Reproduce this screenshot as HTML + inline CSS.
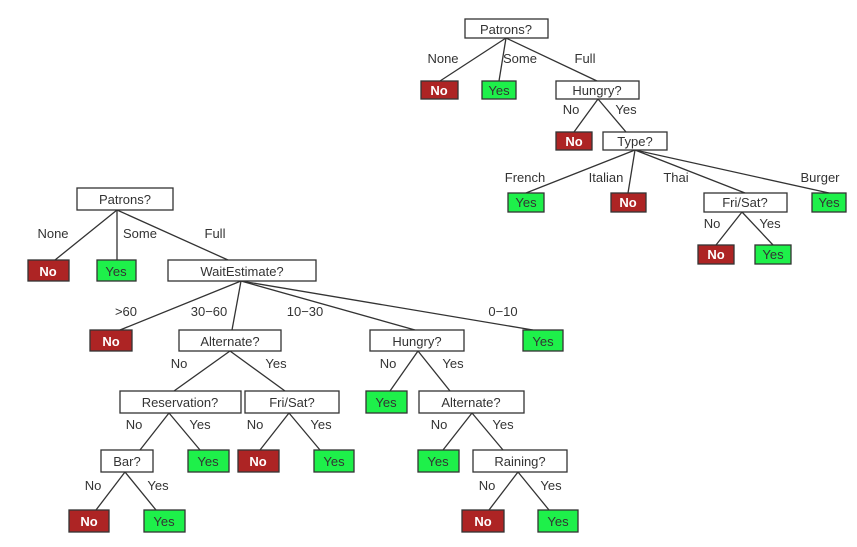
<!DOCTYPE html>
<html><head><meta charset="utf-8"><style>
body{margin:0;background:#fff}
svg text{font-family:"Liberation Sans",Arial,sans-serif;font-size:13px;fill:#333}
.q{fill:#fff;stroke:#333;stroke-width:1.3}
.r{fill:#ad2424;stroke:#333;stroke-width:1.3}
.g{fill:#1ef04a;stroke:#333;stroke-width:1.3}
.n{fill:#fff!important;font-weight:bold}
line{stroke:#333;stroke-width:1.3}
</style></head><body>
<svg width="857" height="542" xmlns="http://www.w3.org/2000/svg">
<!-- TOP TREE edges -->
<line x1="506" y1="38" x2="440" y2="81"/><line x1="506" y1="38" x2="499" y2="81"/><line x1="506" y1="38" x2="597" y2="81"/>
<line x1="598" y1="99" x2="574" y2="132"/><line x1="598" y1="99" x2="626" y2="132"/>
<line x1="635" y1="150" x2="526" y2="193"/><line x1="635" y1="150" x2="628" y2="193"/><line x1="635" y1="150" x2="745" y2="193"/><line x1="635" y1="150" x2="829" y2="193"/>
<line x1="742" y1="212" x2="716" y2="245"/><line x1="742" y1="212" x2="773" y2="245"/>
<!-- BOTTOM TREE edges -->
<line x1="117" y1="210" x2="55" y2="260"/><line x1="117" y1="210" x2="117" y2="260"/><line x1="117" y1="210" x2="228" y2="260"/>
<line x1="241" y1="281" x2="120" y2="330"/><line x1="241" y1="281" x2="232" y2="330"/><line x1="241" y1="281" x2="415" y2="330"/><line x1="241" y1="281" x2="533" y2="330"/>
<line x1="230" y1="351" x2="174" y2="391"/><line x1="230" y1="351" x2="285" y2="391"/>
<line x1="418" y1="351" x2="390" y2="391"/><line x1="418" y1="351" x2="450" y2="391"/>
<line x1="169" y1="413" x2="140" y2="450"/><line x1="169" y1="413" x2="200" y2="450"/>
<line x1="289" y1="413" x2="260" y2="450"/><line x1="289" y1="413" x2="320" y2="450"/>
<line x1="472" y1="413" x2="443" y2="450"/><line x1="472" y1="413" x2="503" y2="450"/>
<line x1="125" y1="472" x2="96" y2="510"/><line x1="125" y1="472" x2="156" y2="510"/>
<line x1="518" y1="472" x2="489" y2="510"/><line x1="518" y1="472" x2="549" y2="510"/>

<!-- TOP TREE nodes -->
<rect class="q" x="465" y="19" width="83" height="19"/><text x="506" y="34" text-anchor="middle">Patrons?</text>
<rect class="r" x="421" y="81" width="37" height="18"/><text class="n" x="439" y="95" text-anchor="middle">No</text>
<rect class="g" x="482" y="81" width="34" height="18"/><text x="499" y="95" text-anchor="middle">Yes</text>
<rect class="q" x="556" y="81" width="83" height="18"/><text x="597" y="95" text-anchor="middle">Hungry?</text>
<rect class="r" x="556" y="132" width="36" height="18"/><text class="n" x="574" y="146" text-anchor="middle">No</text>
<rect class="q" x="603" y="132" width="64" height="18"/><text x="635" y="146" text-anchor="middle">Type?</text>
<rect class="g" x="508" y="193" width="36" height="19"/><text x="526" y="207" text-anchor="middle">Yes</text>
<rect class="r" x="611" y="193" width="35" height="19"/><text class="n" x="628" y="207" text-anchor="middle">No</text>
<rect class="q" x="704" y="193" width="83" height="19"/><text x="745" y="207" text-anchor="middle">Fri/Sat?</text>
<rect class="g" x="812" y="193" width="34" height="19"/><text x="829" y="207" text-anchor="middle">Yes</text>
<rect class="r" x="698" y="245" width="36" height="19"/><text class="n" x="716" y="259" text-anchor="middle">No</text>
<rect class="g" x="755" y="245" width="36" height="19"/><text x="773" y="259" text-anchor="middle">Yes</text>
<g font-size="12" text-anchor="middle" style="font-size:12px">
<text x="443" y="63">None</text><text x="520" y="63">Some</text><text x="585" y="63">Full</text>
<text x="571" y="114">No</text><text x="626" y="114">Yes</text>
<text x="525" y="182">French</text><text x="606" y="182">Italian</text><text x="676" y="182">Thai</text><text x="820" y="182">Burger</text>
<text x="712" y="228">No</text><text x="770" y="228">Yes</text>
</g>

<!-- BOTTOM TREE nodes -->
<g style="font-size:14px">
<rect class="q" x="77" y="188" width="96" height="22"/><text x="125" y="204" text-anchor="middle">Patrons?</text>
<rect class="r" x="28" y="260" width="41" height="21"/><text class="n" x="48" y="276" text-anchor="middle">No</text>
<rect class="g" x="97" y="260" width="39" height="21"/><text x="116" y="276" text-anchor="middle">Yes</text>
<rect class="q" x="168" y="260" width="148" height="21"/><text x="242" y="276" text-anchor="middle">WaitEstimate?</text>
<rect class="r" x="90" y="330" width="42" height="21"/><text class="n" x="111" y="346" text-anchor="middle">No</text>
<rect class="q" x="179" y="330" width="102" height="21"/><text x="230" y="346" text-anchor="middle">Alternate?</text>
<rect class="q" x="370" y="330" width="94" height="21"/><text x="417" y="346" text-anchor="middle">Hungry?</text>
<rect class="g" x="523" y="330" width="40" height="21"/><text x="543" y="346" text-anchor="middle">Yes</text>
<rect class="q" x="120" y="391" width="121" height="22"/><text x="180" y="407" text-anchor="middle">Reservation?</text>
<rect class="q" x="245" y="391" width="94" height="22"/><text x="292" y="407" text-anchor="middle">Fri/Sat?</text>
<rect class="g" x="366" y="391" width="41" height="22"/><text x="386" y="407" text-anchor="middle">Yes</text>
<rect class="q" x="419" y="391" width="105" height="22"/><text x="471" y="407" text-anchor="middle">Alternate?</text>
<rect class="q" x="101" y="450" width="52" height="22"/><text x="127" y="466" text-anchor="middle">Bar?</text>
<rect class="g" x="188" y="450" width="41" height="22"/><text x="208" y="466" text-anchor="middle">Yes</text>
<rect class="r" x="238" y="450" width="41" height="22"/><text class="n" x="258" y="466" text-anchor="middle">No</text>
<rect class="g" x="314" y="450" width="40" height="22"/><text x="334" y="466" text-anchor="middle">Yes</text>
<rect class="g" x="418" y="450" width="41" height="22"/><text x="438" y="466" text-anchor="middle">Yes</text>
<rect class="q" x="473" y="450" width="94" height="22"/><text x="520" y="466" text-anchor="middle">Raining?</text>
<rect class="r" x="69" y="510" width="40" height="22"/><text class="n" x="89" y="526" text-anchor="middle">No</text>
<rect class="g" x="144" y="510" width="41" height="22"/><text x="164" y="526" text-anchor="middle">Yes</text>
<rect class="r" x="462" y="510" width="42" height="22"/><text class="n" x="483" y="526" text-anchor="middle">No</text>
<rect class="g" x="538" y="510" width="40" height="22"/><text x="558" y="526" text-anchor="middle">Yes</text>
</g>
<g text-anchor="middle" style="font-size:13px">
<text x="53" y="238">None</text><text x="140" y="238">Some</text><text x="215" y="238">Full</text>
<text x="126" y="316">&gt;60</text><text x="209" y="316">30−60</text><text x="305" y="316">10−30</text><text x="503" y="316">0−10</text>
<text x="179" y="368">No</text><text x="276" y="368">Yes</text><text x="388" y="368">No</text><text x="453" y="368">Yes</text>
<text x="134" y="429">No</text><text x="200" y="429">Yes</text><text x="255" y="429">No</text><text x="321" y="429">Yes</text>
<text x="439" y="429">No</text><text x="503" y="429">Yes</text>
<text x="93" y="490">No</text><text x="158" y="490">Yes</text><text x="487" y="490">No</text><text x="551" y="490">Yes</text>
</g>
</svg>
</body></html>
